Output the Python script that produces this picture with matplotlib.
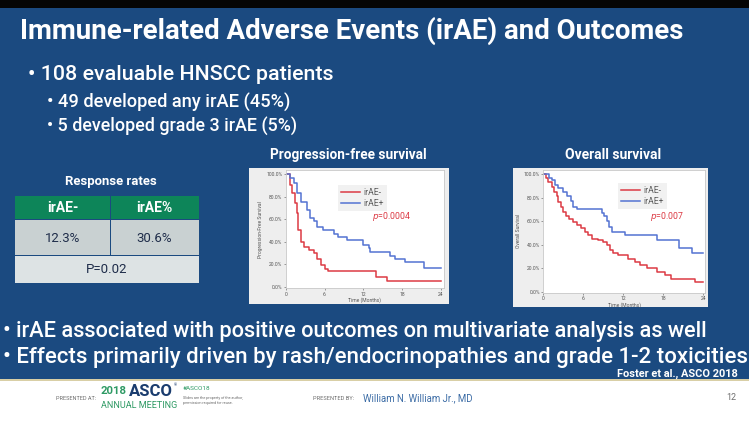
import matplotlib
matplotlib.use("Agg")
import matplotlib.pyplot as plt
from matplotlib.patches import Rectangle

# ---------------- data ----------------
title = "Immune-related Adverse Events (irAE) and Outcomes"
bullets_top = ["\u2022 108 evaluable HNSCC patients",
               "\u2022 49 developed any irAE (45%)",
               "\u2022 5 developed grade 3 irAE (5%)"]
bullets_bottom = ["\u2022 irAE associated with positive outcomes on multivariate analysis as well",
                  "\u2022 Effects primarily driven by rash/endocrinopathies and grade 1-2 toxicities"]
citation = "Foster et al., ASCO 2018"

table_title = "Response rates"
table_header = ["irAE-", "irAE%"]
table_values = ["12.3%", "30.6%"]
table_p = "P=0.02"

series_names = ["irAE-", "irAE+"]

pfs_neg_t = [0, 0.7, 1.0, 1.5, 1.7, 1.9, 2.3, 2.8, 3.6, 4.4, 4.9, 5.4, 6.0, 6.5, 14.0, 15.7]
pfs_neg_s = [100, 90, 83, 74, 65, 50, 40, 35, 32.5, 30, 25, 19, 16, 14, 9, 5]
pfs_pos_t = [0, 0.7, 1.25, 1.8, 2.3, 3.35, 3.8, 4.4, 4.9, 5.7, 7.5, 8.1, 9.4, 12.0, 12.8, 13.1, 16.1, 16.9, 18.4, 21.3]
pfs_pos_s = [100, 96, 92, 83, 75, 68, 61, 58, 53, 50, 47, 44, 41, 37, 34, 31, 27, 25, 22, 17]
pfs_p = "0.0004"

os_neg_t = [0, 0.4, 0.75, 1.25, 1.6, 2.0, 2.25, 2.6, 3.0, 3.4, 3.9, 4.5, 5.1, 5.6, 6.25, 6.75, 7.25,
            8.25, 9.0, 9.5, 10.0, 10.5, 11.25, 12.7, 13.7, 14.5, 15.5, 17.0, 18.2, 19.2, 22.7]
os_neg_s = [100, 97, 93.5, 89, 85, 81, 76.5, 72, 68, 64, 61.5, 59.5, 56.7, 54, 51, 48, 45,
            44, 42.5, 40, 35.5, 33, 31, 28, 25.5, 22.7, 20, 17, 14, 11, 8.5]
os_pos_t = [0, 0.9, 1.25, 1.75, 2.25, 2.9, 3.5, 4.1, 4.5, 5.0, 8.75, 9.1, 9.5, 9.9, 10.25, 12.2, 17.0, 20.4, 22.3]
os_pos_s = [100, 97, 95, 91, 88, 85, 81, 77, 72, 70, 67, 64, 60, 55, 51, 48, 44, 37, 33]
os_p = "0.007"

x_ticks = [0, 6, 12, 18, 24]
y_ticks = [0, 20, 40, 60, 80, 100]
y_tick_labels = ["0.0%", "20.0%", "40.0%", "60.0%", "80.0%", "100.0%"]
t_max = 24

# ---------------- style ----------------
W, H = 749, 423
BLUE_BG = "#1b4a80"
RED = "#dc3a44"
BLUE = "#5473d2"
GREEN = "#0d8559"
FONT = ["Roboto", "DejaVu Sans"]
plt.rcParams["font.family"] = FONT

fig = plt.figure(figsize=(W / 100, H / 100), dpi=100)
bg = fig.add_axes([0, 0, 1, 1])
bg.set_xlim(0, W)
bg.set_ylim(H, 0)
bg.axis("off")
renderer = fig.canvas.get_renderer()


def rect(x0, y0, x1, y1, color, **kw):
    bg.add_patch(Rectangle((x0, y0), x1 - x0, y1 - y0, facecolor=color, edgecolor="none", **kw))


def fit(x, y, s, w, ha="left", va="center", **kw):
    t = bg.text(x, y, s, fontsize=10, ha=ha, va=va, **kw)
    bw = t.get_window_extent(renderer).width
    t.set_fontsize(10 * w / bw)
    return t


# backgrounds
rect(0, 0, W, H, BLUE_BG)
rect(0, 0, W, 8, "#050505")
rect(0, 381, W, H, "white")
rect(0, 379, W, 381.5, "#d9cfa6")

# title & bullets
fit(20, 31, title, 663, color="white", fontweight="bold")
fit(28, 75, bullets_top[0], 305, color="white", fontweight="medium")
fit(47, 102, bullets_top[1], 243, color="white", fontweight="medium")
fit(47, 126, bullets_top[2], 250, color="white", fontweight="medium")
fit(3, 331, bullets_bottom[0], 703, color="white", fontweight="medium")
fit(3, 357, bullets_bottom[1], 741, color="white", fontweight="medium")
fit(738, 374, citation, 122, ha="right", color="white", fontweight="bold")

# panel titles
fit(348, 155, "Progression-free survival", 155, ha="center", color="white", fontweight="bold")
fit(613, 155, "Overall survival", 96, ha="center", color="white", fontweight="bold")

# table
fit(111, 181, table_title, 92, ha="center", color="white", fontweight="bold")
tl, tm, tr = 15, 110, 199
rows = [196, 220, 256, 283]
rect(tl, rows[0], tm - 0.5, rows[1] - 0.5, GREEN)
rect(tm + 0.5, rows[0], tr, rows[1] - 0.5, GREEN)
rect(tl, rows[1] + 0.5, tm - 0.5, rows[2] - 0.5, "#c9d1d2")
rect(tm + 0.5, rows[1] + 0.5, tr, rows[2] - 0.5, "#c9d1d2")
rect(tl, rows[2] + 0.5, tr, rows[3], "#dde3e4")
for i, (hdr, val) in enumerate(zip(table_header, table_values)):
    cx = (tl + tm) / 2 if i == 0 else (tm + tr) / 2
    bg.text(cx, (rows[0] + rows[1]) / 2, hdr, ha="center", va="center", color="white",
            fontweight="bold", fontsize=10)
    bg.text(cx, (rows[1] + rows[2]) / 2, val, ha="center", va="center", color="#1f2d4a",
            fontsize=9.5)
bg.text((tl + tr) / 2, (rows[2] + rows[3]) / 2, table_p, ha="center", va="center",
        color="#1f2d4a", fontsize=9.5)


# KM panels
def km_panel(panel, axbox, ylabel, neg_t, neg_s, pos_t, pos_s, pval, leg_xy, p_xy, xlim, ylim):
    px0, py0, px1, py1 = panel
    rect(px0, py0, px1, py1, "#eeeeee")
    l, t, r, b = axbox
    ax = fig.add_axes([l / W, 1 - b / H, (r - l) / W, (b - t) / H])
    ax.set_facecolor("white")
    for sp in ax.spines.values():
        sp.set_color("#c8c8c8")
        sp.set_linewidth(0.6)
    ax.step(neg_t + [t_max], neg_s + [neg_s[-1]], where="post", color=RED, lw=1.1, label=series_names[0])
    ax.step(pos_t + [t_max], pos_s + [pos_s[-1]], where="post", color=BLUE, lw=1.1, label=series_names[1])
    ax.set_xlim(*xlim)
    ax.set_ylim(*ylim)
    ax.set_xticks(x_ticks)
    ax.set_yticks(y_ticks)
    ax.set_yticklabels(y_tick_labels)
    ax.tick_params(labelsize=3.6, colors="#555555", length=1.5, width=0.4, pad=1)
    ax.set_xlabel("Time (Months)", fontsize=3.6, color="#555555", labelpad=0.5)
    ax.set_ylabel(ylabel, fontsize=3.6, color="#555555", labelpad=2)
    leg = ax.legend(loc="upper left", bbox_to_anchor=leg_xy, borderaxespad=0, fontsize=6.2,
                    frameon=True, fancybox=False, handlelength=2.2, handletextpad=0.4,
                    borderpad=0.35, labelspacing=0.2)
    leg.get_frame().set_facecolor("#eeeeee")
    leg.get_frame().set_edgecolor("none")
    for txt in leg.get_texts():
        txt.set_color("#5a5a5a")
    ax.text(p_xy[0], p_xy[1], r"$p$=" + pval, color=RED, fontsize=6.3, va="center", ha="left")
    return ax


km_panel((249, 168, 449, 304), (285.7, 170, 444, 288.3), "Progression-Free Survival",
         pfs_neg_t, pfs_neg_s, pfs_pos_t, pfs_pos_s, pfs_p, (0.33, 0.873), (13.3, 62.7),
         (0, 24.46), (-1.4, 103.5))
km_panel((513, 168, 708, 307.5), (543.3, 170, 705, 292.7), "Overall Survival",
         os_neg_t, os_neg_s, os_pos_t, os_pos_s, os_p, (0.462, 0.894), (16.0, 64.3),
         (0, 24.25), (-0.85, 103.4))

# footer
GRAY = "#6d6d6d"
fit(56, 399, "PRESENTED AT:", 40, color=GRAY)
fit(101, 391, "2018", 26, color="#2e9a64", fontweight="bold")
fit(129, 391, "ASCO", 44, color="#1a3c6e", fontweight="bold")
bg.text(174, 385, "\u00ae", fontsize=3, color="#1a3c6e", va="center")
fit(101, 405, "ANNUAL MEETING", 76, color="#2e9a64")
fit(183, 389, "#ASCO18", 27, color="#2e9a64")
fit(183, 398, "Slides are the property of the author,", 60, color=GRAY)
fit(183, 403, "permission required for reuse.", 50, color=GRAY)
fit(313, 399, "PRESENTED BY:", 41, color=GRAY)
fit(363, 398, "William N. William Jr., MD", 110, color="#3d6da6")
fit(736, 398, "12", 10, ha="right", color=GRAY)

fig.savefig("out.png", dpi=100)
